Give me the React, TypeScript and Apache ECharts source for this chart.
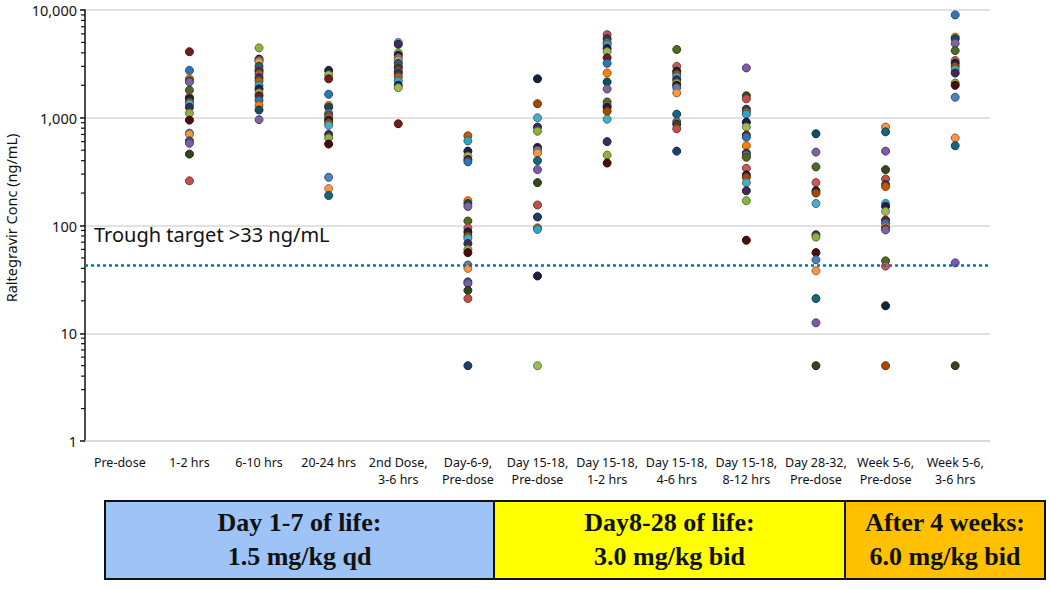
import React, { useEffect, useRef } from "react";
import * as echarts from "echarts";

const categories = [
  "Pre-dose",
  "1-2 hrs",
  "6-10 hrs",
  "20-24 hrs",
  "2nd Dose,\n3-6 hrs",
  "Day-6-9,\nPre-dose",
  "Day 15-18,\nPre-dose",
  "Day 15-18,\n1-2 hrs",
  "Day 15-18,\n4-6 hrs",
  "Day 15-18,\n8-12 hrs",
  "Day 28-32,\nPre-dose",
  "Week 5-6,\nPre-dose",
  "Week 5-6,\n3-6 hrs",
];

const preDose: number[] = [];
const hrs1to2 = [4100, 2750, 2300, 2200, 2150, 1800, 1550, 1500, 1400, 1350, 1250, 1100, 950, 720, 700, 610, 580, 460, 260];
const hrs6to10 = [4450, 3500, 3400, 3300, 3000, 2800, 2700, 2550, 2350, 2200, 2000, 1850, 1700, 1600, 1450, 1300, 1180, 960];
const hrs20to24 = [2750, 2500, 2300, 1650, 1300, 1250, 1100, 1050, 1000, 950, 900, 850, 700, 650, 570, 280, 220, 190];
const secondDose = [5000, 4800, 4000, 3800, 3600, 3400, 3200, 3000, 2900, 2700, 2600, 2400, 2200, 2000, 1900, 880];
const day6to9Pre = [680, 610, 490, 440, 410, 390, 170, 160, 150, 110, 95, 87, 80, 76, 68, 60, 56, 43, 40, 30, 29, 25, 21, 5];
const day15Pre = [2300, 1350, 1000, 820, 750, 530, 500, 470, 400, 330, 250, 155, 120, 95, 92, 34, 5];
const day15h1to2 = [5900, 5400, 5000, 4800, 4400, 4100, 3600, 3200, 2600, 2150, 1850, 1400, 1300, 1250, 1150, 970, 600, 450, 380];
const day15h4to6 = [4300, 3000, 2700, 2550, 2400, 2250, 2100, 2000, 1900, 1700, 1080, 920, 870, 790, 490];
const day15h8to12 = [2900, 1600, 1500, 1200, 1130, 1080, 910, 820, 690, 660, 550, 470, 450, 430, 340, 295, 280, 250, 210, 170, 73];
const day28Pre = [710, 480, 350, 250, 210, 200, 160, 82, 78, 56, 48, 38, 21, 12.5, 5];
const week5Pre = [820, 740, 490, 330, 270, 240, 230, 160, 150, 135, 112, 105, 97, 93, 91, 47, 42, 18, 5];
const week5h3to6 = [9000, 5600, 5400, 4900, 4200, 3400, 3200, 3000, 2800, 2600, 2100, 2000, 1550, 650, 550, 45, 5];

const columns = [
  preDose, hrs1to2, hrs6to10, hrs20to24, secondDose, day6to9Pre, day15Pre,
  day15h1to2, day15h4to6, day15h8to12, day28Pre, week5Pre, week5h3to6,
];

const yMajorTicks = [1, 10, 100, 1000, 10000];
const minorMultipliers = [2, 3, 4, 5, 6, 7, 8, 9];

const troughTarget = 43;
const targetLabel = "Trough target >33 ng/mL";
const yAxisName = "Raltegravir Conc (ng/mL)";

const regimenTitles = ["Day 1-7 of life:", "Day8-28 of life:", "After 4 weeks:"];
const regimenDoses = ["1.5 mg/kg qd", "3.0 mg/kg bid", "6.0 mg/kg bid"];
const regimenColors = ["#9DC3F7", "#FFFF00", "#FFC000"];

const palette = [
  "#4F81BD", "#C0504D", "#9BBB59", "#8064A2", "#4BACC6", "#F79646",
  "#1F3F6B", "#6E1F1D", "#4F6B22", "#3E2B5A", "#17667A", "#C05A00",
  "#2E75B6", "#C55A5A", "#8DB23F", "#7A5CA8", "#2FA6C6", "#FF7F00",
  "#10243F", "#4A0E0E", "#33471A", "#2A1A47", "#0F4F63", "#A84800",
];

function darken(hex: string, f: number) {
  const n = parseInt(hex.slice(1), 16);
  const r = Math.round(((n >> 16) & 255) * f);
  const g = Math.round(((n >> 8) & 255) * f);
  const b = Math.round((n & 255) * f);
  return `rgb(${r},${g},${b})`;
}

export default function App() {
  const ref = useRef<HTMLDivElement>(null);

  useEffect(() => {
    document.body.style.margin = "0";
    if (!ref.current) return;
    const chart = echarts.init(ref.current, undefined, { renderer: "svg" });

    const points: any[] = [];
    columns.forEach((col, i) => {
      col.forEach((v, j) => {
        const c = palette[(i * 7 + j * 5) % palette.length];
        points.push({
          value: [i, v],
          itemStyle: { color: c, borderColor: darken(c, 0.65), borderWidth: 1, opacity: 1 },
        });
      });
    });

    const minorData: number[][] = [];
    yMajorTicks.slice(0, -1).forEach((d) => {
      minorMultipliers.forEach((m) => minorData.push([0, d * m]));
    });

    const left = 85;
    const boxTop = 501;
    const boxH = 78;
    const boxEdges = [105, 494, 845, 1045];

    const graphics: any[] = [
      {
        type: "text",
        left: 94,
        top: 224,
        style: {
          text: targetLabel,
          fontSize: 20,
          fontFamily: "Noto Sans",
          fill: "#111",
        },
      },
      {
        type: "text",
        x: 11,
        y: 218,
        rotation: Math.PI / 2,
        style: {
          text: yAxisName,
          fontSize: 14.5,
          fontFamily: "Noto Sans",
          fill: "#111",
          align: "center",
          verticalAlign: "middle",
        },
      },
    ];
    regimenTitles.forEach((t, k) => {
      const x0 = boxEdges[k];
      const x1 = boxEdges[k + 1];
      graphics.push({
        type: "rect",
        shape: { x: x0, y: boxTop, width: x1 - x0, height: boxH },
        style: { fill: regimenColors[k], stroke: "#111", lineWidth: 2 },
      });
      graphics.push({
        type: "text",
        x: (x0 + x1) / 2,
        y: boxTop + 21,
        style: {
          text: t,
          fontSize: 26,
          fontWeight: "bold",
          fontFamily: "Liberation Serif",
          fill: "#111",
          align: "center",
          verticalAlign: "middle",
        },
      });
      graphics.push({
        type: "text",
        x: (x0 + x1) / 2,
        y: boxTop + 55,
        style: {
          text: regimenDoses[k],
          fontSize: 26,
          fontWeight: "bold",
          fontFamily: "Liberation Serif",
          fill: "#111",
          align: "center",
          verticalAlign: "middle",
        },
      });
    });

    chart.setOption({
      animation: false,
      textStyle: { fontFamily: "Noto Sans" },
      grid: { left, right: 60, top: 10, bottom: 148 },
      xAxis: {
        type: "category",
        data: categories,
        boundaryGap: true,
        axisLine: { show: true, lineStyle: { color: "#D9D9D9", width: 1.5 } },
        axisTick: { show: false },
        axisLabel: {
          interval: 0,
          margin: 13,
          fontSize: 12.5,
          lineHeight: 17,
          color: "#111",
        },
      },
      yAxis: {
        type: "log",
        logBase: 10,
        min: 1,
        max: 10000,
        axisLine: { show: true, lineStyle: { color: "#111", width: 1.5 } },
        axisTick: { show: true, length: 5, lineStyle: { color: "#111", width: 1.5 } },
        axisLabel: {
          fontSize: 14.5,
          color: "#111",
          margin: 8,
          formatter: (v: number) => Math.round(v).toLocaleString("en-US"),
        },
        splitLine: { show: true, lineStyle: { color: "#D9D9D9", width: 1.5 } },
      },
      series: [
        {
          type: "scatter",
          symbol: "circle",
          symbolSize: 8,
          data: points,
          z: 3,
          markLine: {
            silent: true,
            symbol: "none",
            label: { show: false },
            lineStyle: { type: [3, 3], color: "#0070C0", width: 2.5 },
            data: [{ yAxis: troughTarget }],
          },
        },
        {
          type: "custom",
          silent: true,
          clip: false,
          data: minorData,
          renderItem: (params: any, api: any) => {
            const p = api.coord([0, api.value(1)]);
            const x = params.coordSys.x;
            return {
              type: "line",
              shape: { x1: x - 4, y1: p[1], x2: x, y2: p[1] },
              style: { stroke: "#111", lineWidth: 1.2 },
            };
          },
          z: 4,
        },
      ],
      graphic: graphics,
    });

    return () => chart.dispose();
  }, []);

  return <div ref={ref} style={{ width: 1050, height: 589 }} />;
}
